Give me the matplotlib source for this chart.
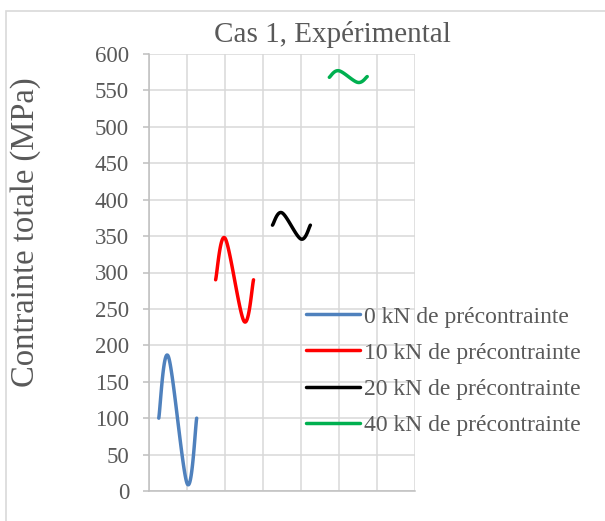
import numpy as np
import matplotlib
matplotlib.use('Agg')
import matplotlib.pyplot as plt
from matplotlib.patches import Rectangle

# data (x in grid units, y in MPa)
labels = ['0 kN de précontrainte', '10 kN de précontrainte',
          '20 kN de précontrainte', '40 kN de précontrainte']
x_0kN = [0.25, 0.5, 1.0, 1.25]
y_0kN = [100, 185, 10, 100]
x_10kN = [1.75, 2.0, 2.5, 2.75]
y_10kN = [290, 347, 233, 290]
x_20kN = [3.25, 3.5, 4.0, 4.25]
y_20kN = [365, 382, 346, 365]
x_40kN = [4.75, 5.0, 5.5, 5.75]
y_40kN = [568, 577, 561, 569]
colors = ['#4F81BD', '#FF0000', '#000000', '#00B050']

GREY_TXT = '#595959'


def smooth(xs, ys, n=40):
    # excel-like smoothed line: bezier segments with control points from neighbours
    p = np.column_stack([xs, ys]).astype(float)
    out = []
    for i in range(len(p) - 1):
        p0 = p[i - 1] if i > 0 else p[i]
        p1 = p[i]
        p2 = p[i + 1]
        p3 = p[i + 2] if i + 2 < len(p) else p[i + 1]
        c1 = p1 + (p2 - p0) / 6
        c2 = p2 - (p3 - p1) / 6
        t = np.linspace(0, 1, n)[:, None]
        seg = ((1 - t) ** 3) * p1 + 3 * ((1 - t) ** 2) * t * c1 + 3 * (1 - t) * t ** 2 * c2 + t ** 3 * p2
        out.append(seg if i == 0 else seg[1:])
    out = np.vstack(out)
    return out[:, 0], out[:, 1]


def main():
    plt.rcParams['font.family'] = ['Liberation Serif', 'DejaVu Serif']
    fig = plt.figure(figsize=(6.05, 5.21), dpi=100)
    W, H = 605, 521
    ax = fig.add_axes([149.3 / W, 1 - 491 / H, 265.3 / W, 437 / H])

    series = [(x_0kN, y_0kN), (x_10kN, y_10kN), (x_20kN, y_20kN), (x_40kN, y_40kN)]
    for (xs, ys), c, lab in zip(series, colors, labels):
        sx, sy = smooth(xs, ys)
        ax.plot(sx, sy, color=c, lw=2.5, label=lab, solid_capstyle='round', zorder=3)

    ax.set_xlim(0, 7)
    ax.set_ylim(0, 600)
    ax.set_yticks(np.arange(0, 601, 50))
    ax.set_xticks(np.arange(0, 8, 1))
    ax.set_xticklabels([])
    ax.grid(True, color='#D9D9D9', lw=1.1, zorder=0)
    for s in ['top', 'right']:
        ax.spines[s].set_visible(False)
    for s in ['left', 'bottom']:
        ax.spines[s].set_color('#BFBFBF')
        ax.spines[s].set_linewidth(1.1)
    ax.tick_params(axis='x', length=0)
    ax.tick_params(axis='y', length=4.5, width=1.1, color='#BFBFBF', pad=10,
                   labelsize=16.5, labelcolor=GREY_TXT)
    ax.set_axisbelow(True)

    fig.text(332 / W, 1 - 34 / H, 'Cas 1, Expérimental', ha='center', va='center',
             fontsize=21, color=GREY_TXT)
    fig.text(26 / W, 1 - 232 / H, 'Contrainte totale (MPa)', ha='center', va='center',
             rotation=90, fontsize=23.5, color=GREY_TXT)

    ax.legend(loc='upper left', bbox_to_anchor=(306 / W, 1 - 306 / H),
              bbox_transform=fig.transFigure, frameon=False, fontsize=17,
              handlelength=2.3, handletextpad=0.15, labelspacing=0.62,
              borderpad=0, borderaxespad=0, labelcolor=GREY_TXT)

    fig.patches.append(Rectangle((6 / W, -0.1), 1.2, 1.1 - 11 / H, transform=fig.transFigure,
                                 fill=False, edgecolor='#D9D9D9', lw=1.2, figure=fig))

    fig.savefig('out.png', dpi=100)


if __name__ == '__main__':
    main()
